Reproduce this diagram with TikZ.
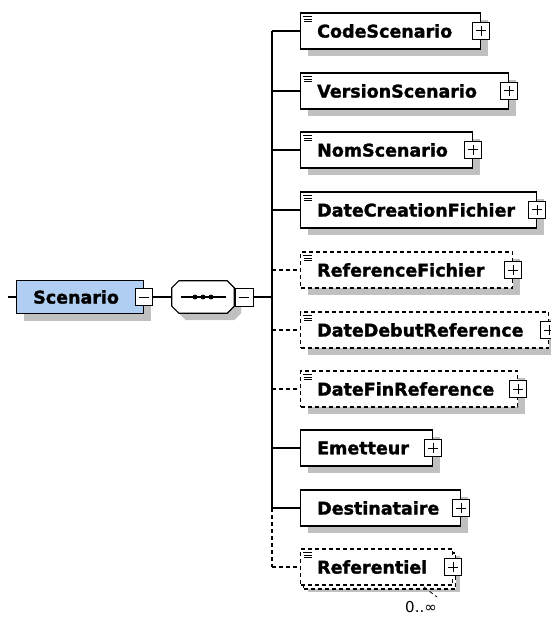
\documentclass[tikz,border=0pt]{standalone}
\usepackage{fontspec}
\setmainfont{DejaVu Sans}
\newfontfamily\elfont{DejaVu Sans}[BoldFeatures={FakeBold=1.6}]
\usetikzlibrary{shadows}
\definecolor{shadowgray}{RGB}{192,192,192}
\definecolor{scfill}{RGB}{176,206,242}
\tikzset{
 sh/.style={drop shadow={shadow xshift=7pt,shadow yshift=-7pt,fill=shadowgray,opacity=1}},
 shsmall/.style={drop shadow={shadow xshift=4pt,shadow yshift=-3pt,fill=shadowgray,opacity=1}},
 elembox/.style={draw,line width=1.4pt,fill=white,anchor=west,minimum height=36pt,inner sep=0pt},
 optbox/.style={dash pattern=on 4pt off 3pt,line width=1.2pt},
 elemtext/.style={anchor=west,inner sep=0pt,font=\elfont\fontsize{17.5}{20}\selectfont\bfseries},
 plusbox/.style={draw,fill=white,line width=1pt,minimum size=17pt,inner sep=0pt,
   path picture={\draw[line width=1pt] ([xshift=-5pt]path picture bounding box.center) -- ([xshift=5pt]path picture bounding box.center)
     ([yshift=-5pt]path picture bounding box.center) -- ([yshift=5pt]path picture bounding box.center);}},
 minusbox/.style={draw,fill=white,line width=1pt,minimum size=17pt,inner sep=0pt,
   path picture={\draw[line width=1pt] ([xshift=-5pt]path picture bounding box.center) -- ([xshift=5pt]path picture bounding box.center);}},
 conn/.style={line width=1.3pt},
 optconn/.style={line width=1.2pt,dash pattern=on 4pt off 3pt},
 iconline/.style={line width=1pt},
 occtext/.style={inner sep=0pt,font=\fontsize{15}{17}\selectfont},
}
% #1 name, #2 y, #3 width, #4 text, #5 extra box style
\newcommand\xelem[5]{%
 \node[elembox,sh,#5,minimum width=#3] (#1) at (300,#2) {};
 \node[elemtext] (#1t) at ([xshift=17pt]#1.west) {#4};
 \node[plusbox] (#1p) at (#1.east) {};
}
\newcommand\xicon[1]{%
 \draw[iconline] ([xshift=3pt,yshift=-4.5pt]#1.north west) -- +(9,0)
   ([xshift=4pt,yshift=-7pt]#1.north west) -- +(8,0)
   ([xshift=4pt,yshift=-9.5pt]#1.north west) -- +(8,0);
}
\begin{document}
\begin{tikzpicture}[x=1pt,y=-1pt]
\useasboundingbox (0,0) rectangle (550,617);
\fill[white] (0,0) rectangle (550,617);
% root element
\coordinate (in) at (8,297);
\node[elembox,sh,fill=scfill,minimum width=127pt,minimum height=33pt] (sc) at (16,297) {};
\node[elemtext] (sct) at ([xshift=17pt]sc.west) {Scenario};
\node[minusbox] (scm) at (sc.east) {};
\draw[conn] (in) -- (sc.west);
% sequence compositor
\node[minimum width=62pt,minimum height=32pt,inner sep=0pt] (seq) at (203,297) {};
\draw[line width=1.2pt,fill=white,sh] ([xshift=7pt]seq.north west) -- ([xshift=-7pt]seq.north east)
  -- ([yshift=-7pt]seq.north east) -- ([yshift=7pt]seq.south east)
  -- ([xshift=-7pt]seq.south east) -- ([xshift=7pt]seq.south west)
  -- ([yshift=7pt]seq.south west) -- ([yshift=-7pt]seq.north west) -- cycle;
\draw[line width=1.2pt] ([xshift=9pt]seq.west) -- ([xshift=-8pt]seq.east);
\foreach \dx in {-8,0,8} \fill ([xshift=\dx pt]seq.center) circle (2.4);
\node[minusbox,minimum size=18pt] (seqm) at (244,297) {};
\draw[conn] (scm.east) -- (seq.west);
\coordinate (bus) at (272,297);
\draw[conn] (seqm.east) -- (bus);
% children
\xelem{cs}{31}{180pt}{CodeScenario}{}
\xelem{vs}{91}{208pt}{VersionScenario}{}
\xelem{ns}{150}{172pt}{NomScenario}{}
\xelem{dc}{210}{236pt}{DateCreationFichier}{}
\xelem{rfi}{270}{212pt}{ReferenceFichier}{optbox}
\xelem{dd}{330}{248pt}{DateDebutReference}{optbox}
\xelem{df}{389}{217pt}{DateFinReference}{optbox}
\xelem{em}{448}{132pt}{Emetteur}{}
\xelem{de}{508}{160pt}{Destinataire}{}
% Referentiel (multiple occurrences: stacked boxes)
\node[elembox,optbox,shsmall,minimum width=152pt] (rfb) at (303,571) {};
\node[elembox,optbox,minimum width=152pt] (rf) at (300,567) {};
\node[elemtext] (rft) at ([xshift=17pt]rf.west) {Referentiel};
\node[plusbox] (rfp) at (rf.east) {};
\draw[optconn,line width=0.8pt] (424,587) -- (437,597);
\node[occtext] (occ) at (421,607) {0..∞};
% icons
\xicon{cs}\xicon{vs}\xicon{ns}\xicon{dc}\xicon{rfi}\xicon{dd}\xicon{df}\xicon{rf}
% connectors
\draw[conn] (bus |- cs.west) -- (bus |- de.west);
\draw[optconn] (bus |- de.west) -- (bus |- rf.west);
\foreach \n in {cs,vs,ns,dc,em,de} \draw[conn] (bus |- \n.west) -- (\n.west);
\foreach \n in {rfi,dd,df,rf} \draw[optconn] (bus |- \n.west) -- (\n.west);
\end{tikzpicture}
\end{document}
